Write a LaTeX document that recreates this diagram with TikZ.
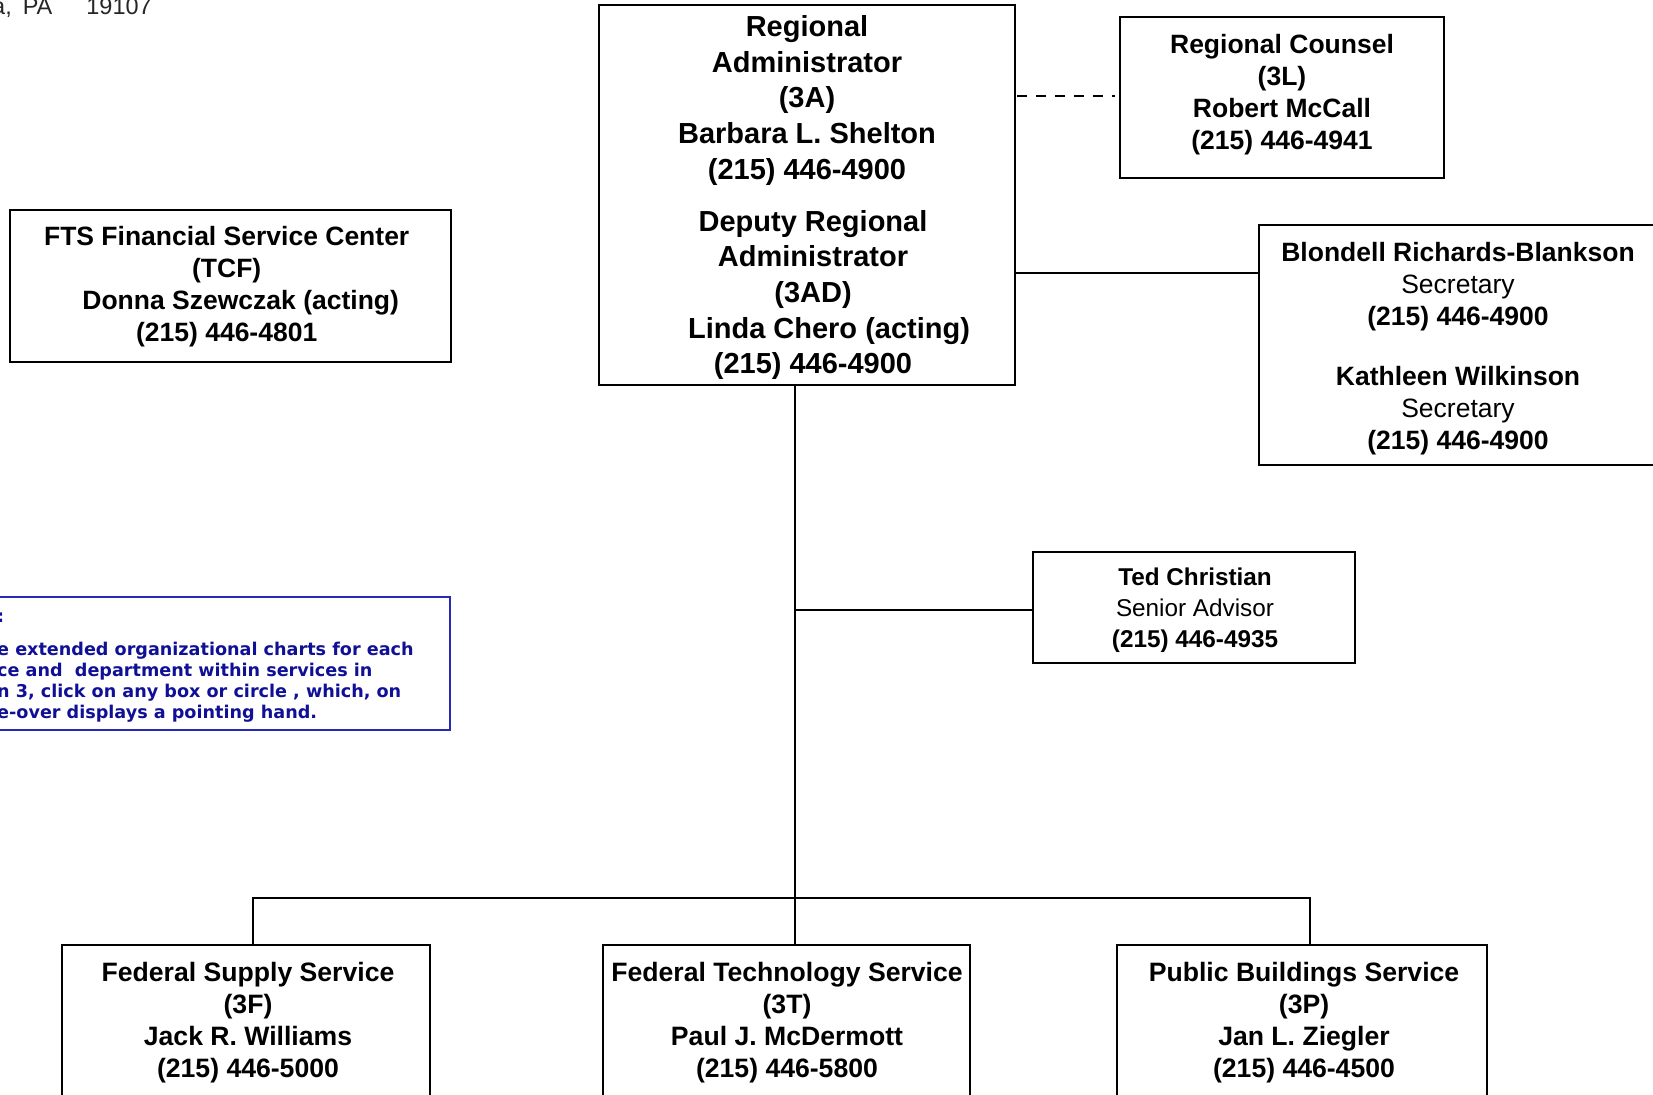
\documentclass[tikz,border=0pt]{standalone}
\usepackage{fontspec}
\usetikzlibrary{calc}
\setmainfont{Liberation Sans}
\newfontfamily\verdfont{DejaVu Sans}
\definecolor{navytext}{RGB}{16,16,150}
\definecolor{navyline}{RGB}{40,40,185}
\begin{document}
\begin{tikzpicture}[x=1pt,y=-1pt,
  bx/.style={draw, line width=2.5pt, inner sep=0pt, outer sep=0pt},
  conn/.style={line width=2pt},
  tmain/.style={font=\bfseries\fontsize{29}{35.6}\selectfont, align=center, inner sep=0pt},
  tbox/.style={font=\bfseries\fontsize{26.5}{32}\selectfont, align=center, inner sep=0pt},
  tbot/.style={font=\bfseries\fontsize{26.6}{32}\selectfont, align=center, inner sep=0pt},
  tted/.style={font=\bfseries\fontsize{24.3}{31}\selectfont, align=center, inner sep=0pt},
  bl/.style={font=\verdfont\bfseries\fontsize{17.6}{21}\selectfont, text=navytext, inner sep=0pt, anchor=base west}]
\useasboundingbox (0,0) rectangle (1653,1094);
\clip (0,0) rectangle (1653,1094);
\fill[white] (0,0) rectangle (1653,1094);

% address fragment
\node[anchor=base west, font=\fontsize{23.5}{28}\selectfont, text=black!85, inner sep=0pt] (addr) at (-8,15) {a,\hspace{11pt}PA\hspace{34pt}19107};

% boxes
\node[bx, minimum width=416pt, minimum height=380pt] (ra) at (807,195) {};
\node[bx, minimum width=324pt, minimum height=161pt] (rc) at (1282,97.5) {};
\node[bx, minimum width=441pt, minimum height=152pt] (fts) at (230.5,286) {};
\node[bx, minimum width=441pt, minimum height=240pt] (sec) at (1479.5,345) {};
\node[bx, minimum width=322pt, minimum height=111pt] (ted) at (1194,607.5) {};
\node[draw=navyline, line width=2pt, minimum width=470pt, minimum height=133pt, inner sep=0pt] (note) at (215,663.5) {};
\node[bx, minimum width=368pt, minimum height=205pt] (fss) at (246,1047.5) {};
\node[bx, minimum width=367pt, minimum height=205pt] (ftsv) at (786.5,1047.5) {};
\node[bx, minimum width=370pt, minimum height=205pt] (pbs) at (1302,1047.5) {};

% texts
\node[tmain] (ratxt) at (807,100.5) {Regional\\Administrator\\(3A)\\Barbara L. Shelton\\(215) 446-4900};
\node[tmain] (dratxt) at (813,295) {Deputy Regional\\Administrator\\(3AD)\\\hspace*{32pt}Linda Chero (acting)\\(215) 446-4900};
\node[tbox] (rctxt) at (1282,95) {Regional Counsel\\(3L)\\Robert McCall\\(215) 446-4941};
\node[font=\bfseries\fontsize{26.5}{32}\selectfont, align=center, inner sep=0pt] (ftstxt) at (226.7,286.4) {FTS Financial Service Center\\(TCF)\\\hspace*{28pt}Donna Szewczak (acting)\\(215) 446-4801};
\node[tbox] (sectxt) at (1458,349) {Blondell Richards-Blankson\\\textmd{Secretary}\\(215) 446-4900\\[28pt]Kathleen Wilkinson\\\textmd{Secretary}\\(215) 446-4900};
\node[tted] (tedtxt) at (1195,610.6) {Ted Christian\\\textmd{Senior Advisor}\\(215) 446-4935};
\node[tbot] (fsstxt) at (248,1023) {Federal Supply Service\\(3F)\\Jack R. Williams\\(215) 446-5000};
\node[tbot] (ftsvtxt) at (787,1023) {Federal Technology Service\\(3T)\\Paul J. McDermott\\(215) 446-5800};
\node[tbot] (pbstxt) at (1304,1023) {Public Buildings Service\\(3P)\\Jan L. Ziegler\\(215) 446-4500};

% note text
\node[bl] (b0) at (-3,622) {:};
\node[bl] (b1) at (-3,655) {e extended organizational charts for each};
\node[bl] (b2) at (-3,676) {ce and\ \ department within services in};
\node[bl] (b3) at (-3,697) {n 3, click on any box or circle , which, on};
\node[bl] (b4) at (-3,718) {e-over displays a pointing hand.};

% connectors
\coordinate (trunktop) at ($(ra.south)+(-12,0)$);
\coordinate (secj) at (1259,273);
\coordinate (busL) at (253,898);
\coordinate (busR) at (1310,898);
\draw[conn, dash pattern=on 10pt off 9pt, shorten <=2pt, shorten >=5pt] (ra.east |- 0,96) -- (rc.west |- 0,96);
\draw[conn] (ra.east |- secj) -- (secj);
\draw[conn] (trunktop) -- (trunktop |- ftsv.north);
\draw[conn] (trunktop |- 0,610) -- (ted.west |- 0,610);
\draw[conn] (busL |- fss.north) -- (busL) -- (busR) -- (busR |- pbs.north);
\end{tikzpicture}
\end{document}
